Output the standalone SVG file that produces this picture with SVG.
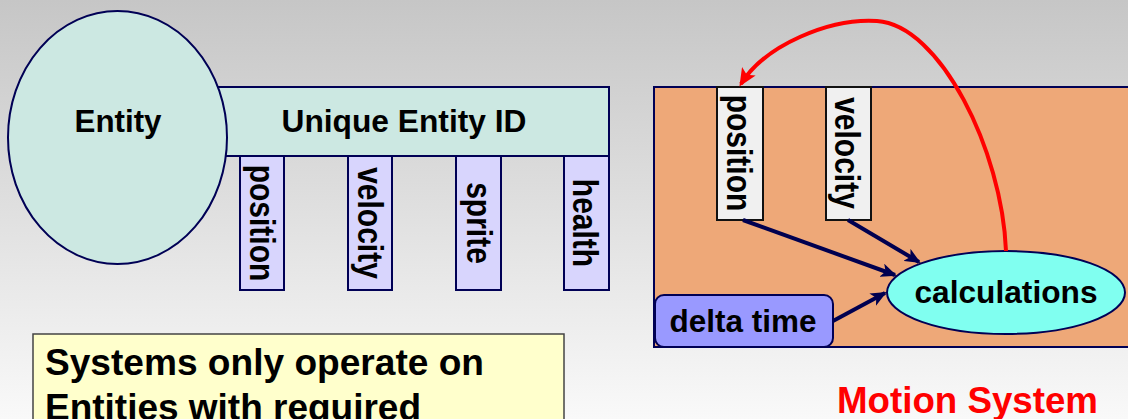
<svg xmlns="http://www.w3.org/2000/svg" width="1128" height="419" viewBox="0 0 1128 419">
<defs>
<linearGradient id="bg" x1="0" y1="0" x2="0" y2="1">
<stop offset="0" stop-color="#c6c6c6"/>
<stop offset="1" stop-color="#f9f9f9"/>
</linearGradient>
<marker id="navyArrow" markerUnits="userSpaceOnUse" markerWidth="16" markerHeight="14" refX="14" refY="7" orient="auto" viewBox="0 0 16 14">
<path d="M0,0 L16,7 L0,14 L4,7 z" fill="#000050"/>
</marker>
<marker id="redArrow" markerUnits="userSpaceOnUse" markerWidth="18" markerHeight="16" refX="15" refY="8" orient="auto" viewBox="0 0 18 16">
<path d="M0,0 L18,8 L0,16 L4,8 z" fill="#ff0000"/>
</marker>
</defs>
<style>
text{font-family:"Liberation Sans",Arial,sans-serif;font-weight:bold;fill:#000}
.lbl{font-size:31px;text-anchor:middle}
.vt{font-size:30px;text-anchor:middle}
.teal{fill:#cce8e2;stroke:#000055;stroke-width:2}
.bar{fill:#d8d5fd;stroke:#000055;stroke-width:2}
.wbox{fill:#f0f0f0;stroke:#111;stroke-width:2}
.conn{fill:none;stroke:#000050;stroke-width:4;marker-end:url(#navyArrow)}
</style>
<rect x="0" y="0" width="1128" height="419" fill="url(#bg)"/>

<g id="entity-id">
<rect class="teal" x="190" y="87" width="419" height="69"/>
<text class="lbl" x="404" y="132" textLength="245" lengthAdjust="spacingAndGlyphs">Unique Entity ID</text>
</g>
<g id="entity">
<ellipse class="teal" cx="117.5" cy="137.5" rx="109.5" ry="126.5"/>
<text class="lbl" x="118" y="132" textLength="87" lengthAdjust="spacingAndGlyphs">Entity</text>
</g>
<g id="comp-position">
<rect class="bar" x="240" y="156" width="44" height="134"/>
<text class="vt" transform="translate(250,223) rotate(90) scale(1,1.15)">position</text>
</g>
<g id="comp-velocity">
<rect class="bar" x="348" y="156" width="44" height="134"/>
<text class="vt" transform="translate(358,223) rotate(90) scale(1,1.15)">velocity</text>
</g>
<g id="comp-sprite">
<rect class="bar" x="456" y="156" width="45" height="134"/>
<text class="vt" transform="translate(467,223) rotate(90) scale(1,1.15)">sprite</text>
</g>
<g id="comp-health">
<rect class="bar" x="564" y="156" width="45" height="134"/>
<text class="vt" transform="translate(573,223) rotate(90) scale(1,1.15)">health</text>
</g>

<g id="note">
<rect x="33" y="334" width="531" height="100" fill="#ffffcc" stroke="#444" stroke-width="1.5"/>
<text x="45" y="375" style="font-size:36px" textLength="439" lengthAdjust="spacingAndGlyphs">Systems only operate on</text>
<text x="45" y="420" style="font-size:36px" textLength="376" lengthAdjust="spacingAndGlyphs">Entities with required</text>
</g>

<g id="motion-system">
<rect x="654" y="87" width="480" height="260" fill="#eea878" stroke="#000055" stroke-width="2"/>
</g>
<g id="sys-position">
<rect class="wbox" x="717" y="87" width="46" height="133"/>
<text class="vt" transform="translate(727,153) rotate(90) scale(1,1.15)">position</text>
</g>
<g id="sys-velocity">
<rect class="wbox" x="826" y="87" width="45" height="133"/>
<text class="vt" transform="translate(835,153) rotate(90) scale(1,1.15)">velocity</text>
</g>
<g id="calculations">
<ellipse cx="1006" cy="292.5" rx="119" ry="41.5" fill="#80fff0" stroke="#000055" stroke-width="2"/>
<text class="lbl" x="1006" y="303" textLength="183" lengthAdjust="spacingAndGlyphs">calculations</text>
</g>
<g id="delta-time">
<rect x="655" y="295" width="178" height="52" rx="9" fill="#9999ff" stroke="#000055" stroke-width="2"/>
<text class="lbl" x="743" y="332" textLength="147" lengthAdjust="spacingAndGlyphs">delta time</text>
</g>

<g id="connectors">
<path class="conn" d="M743,220 L895,275"/>
<path class="conn" d="M848,220 L919,262"/>
<path class="conn" d="M833,321 L885,293"/>
<path d="M1006,251 C1002,150 940,25 877,21 C830,18 765,45 741,84" fill="none" stroke="#ff0000" stroke-width="4" marker-end="url(#redArrow)"/>
</g>

<text x="837" y="413" style="font-size:36px;fill:#ff0000" textLength="261" lengthAdjust="spacingAndGlyphs">Motion System</text>
</svg>
